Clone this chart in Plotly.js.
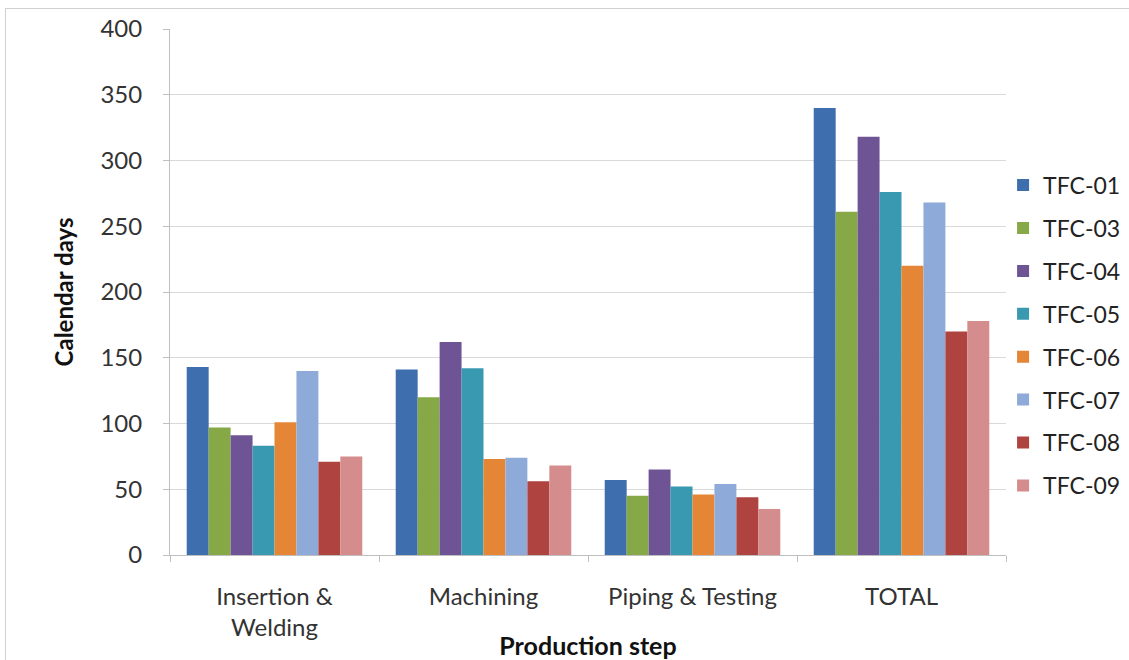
<!DOCTYPE html>
<html>
<head>
<meta charset="utf-8">
<script src="https://cdn.plot.ly/plotly-3.0.1.min.js"></script>
<style>
html,body{margin:0;padding:0;background:#fff;}
#frame{position:absolute;left:5px;top:8px;width:1130px;height:660px;border-left:1px solid #d0d0d0;border-top:1px solid #d0d0d0;pointer-events:none;}
#chart{width:1129px;height:660px;}
</style>
</head>
<body>
<div id="chart"></div>
<div id="frame"></div>
<script>
const categories = ["Insertion &<br>Welding", "Machining", "Piping & Testing", "TOTAL"];
const seriesNames = ["TFC-01", "TFC-03", "TFC-04", "TFC-05", "TFC-06", "TFC-07", "TFC-08", "TFC-09"];
const tfc01 = [143, 141, 57, 340];
const tfc03 = [97, 120, 45, 261];
const tfc04 = [91, 162, 65, 318];
const tfc05 = [83, 142, 52, 276];
const tfc06 = [101, 73, 46, 220];
const tfc07 = [140, 74, 54, 268];
const tfc08 = [71, 56, 44, 170];
const tfc09 = [75, 68, 35, 178];
const seriesValues = [tfc01, tfc03, tfc04, tfc05, tfc06, tfc07, tfc08, tfc09];
const colors = ['#3E6EAE', '#86A847', '#6E5495', '#3899B1', '#E48636', '#8EAAD8', '#AF4340', '#D48C8C'];

const font = "Lato, 'Open Sans', 'DejaVu Sans', sans-serif";
const traces = seriesNames.map((n, i) => ({
  type: 'bar',
  name: n,
  legendgroup: n,
  x: categories,
  y: seriesValues[i],
  marker: {color: colors[i]},
  hoverinfo: 'x+y+name'
}));

const layout = {
  width: 1129,
  height: 660,
  margin: {l: 170, r: 123, t: 29, b: 105, autoexpand: false},
  paper_bgcolor: '#ffffff',
  plot_bgcolor: '#ffffff',
  barmode: 'group',
  bargap: 0.16,
  bargroupgap: 0,
  font: {family: font, color: '#222222', size: 24},
  xaxis: {
    type: 'category',
    showline: true,
    linecolor: '#bfbfbf',
    linewidth: 1,
    ticks: 'outside',
    tickson: 'boundaries',
    ticklen: 6,
    tickcolor: '#bfbfbf',
    showgrid: false,
    ticklabelstandoff: 20,
    tickfont: {family: font, size: 24, color: '#333333'},
    title: {text: '<b>Production step</b>', font: {family: font, size: 25, color: '#111111'}, standoff: 0}
  },
  yaxis: {
    range: [0, 400],
    dtick: 50,
    showline: true,
    linecolor: '#bfbfbf',
    ticks: 'outside',
    ticklen: 6,
    tickcolor: '#bfbfbf',
    showgrid: true,
    gridcolor: '#d9d9d9',
    gridwidth: 1,
    zeroline: false,
    ticklabelstandoff: 16,
    tickfont: {family: font, size: 24, color: '#333333'},
    title: {text: '<b>Calendar days</b>', font: {family: font, size: 24, color: '#111111'}, standoff: 20}
  },
  legend: {
    x: 0.9965,
    xanchor: 'left',
    y: 0.417,
    yanchor: 'middle',
    font: {family: font, size: 23, color: '#222222'},
    tracegroupgap: 10,
    itemwidth: 30,
    bgcolor: 'rgba(0,0,0,0)'
  },
  showlegend: true
};

Plotly.newPlot('chart', traces, layout, {displayModeBar: false, staticPlot: true});
</script>
</body>
</html>
